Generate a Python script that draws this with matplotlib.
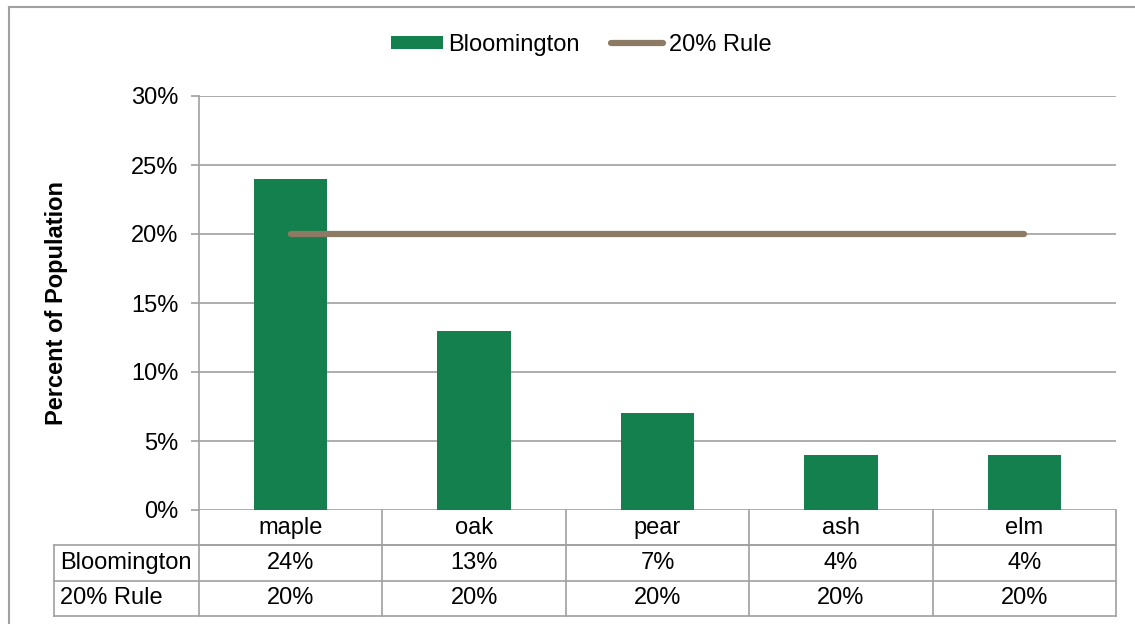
import matplotlib
matplotlib.use("Agg")
import matplotlib.pyplot as plt
from matplotlib.lines import Line2D
import matplotlib.transforms as mtransforms
import numpy as np

categories = ["maple", "oak", "pear", "ash", "elm"]
bloomington = [24, 13, 7, 4, 4]
rule20 = [20, 20, 20, 20, 20]
yticks = [0, 5, 10, 15, 20, 25, 30]
series_names = ["Bloomington", "20% Rule"]

plt.rcParams['font.family'] = ['Liberation Sans', 'DejaVu Sans']
FS = 17
GRID = "#A0A0A0"
W, H = 1135, 624
fig = plt.figure(figsize=(W / 100, H / 100), dpi=100)

# outer chart border (top and left visible)
fig.add_artist(Line2D([9 / W, 1.0], [1 - 7 / H, 1 - 7 / H], color=GRID, lw=1.5))
fig.add_artist(Line2D([9 / W, 9 / W], [0, 1 - 7 / H], color=GRID, lw=1.5))

x0, x1, ytop, ybot = 199, 1116, 96, 510
ax = fig.add_axes([x0 / W, 1 - ybot / H, (x1 - x0) / W, (ybot - ytop) / H])

x = np.arange(len(categories))
bar_color = "#13804E"
line_color = "#8D7A64"
bars = ax.bar(x, bloomington, width=0.4, color=bar_color, zorder=3, label=series_names[0])
line, = ax.plot(x, rule20, color=line_color, lw=4.5, solid_capstyle="round", zorder=4,
                label=series_names[1])

ax.set_xlim(-0.5, len(categories) - 0.5)
ax.set_ylim(0, 30)
ax.set_yticks(yticks)
ax.set_yticklabels([f"{v}%" for v in yticks], fontsize=FS)
ax.set_xticks([])
ax.grid(axis="y", color=GRID, lw=1.2, zorder=0)
for s in ["top", "right", "bottom"]:
    ax.spines[s].set_visible(False)
ax.spines["left"].set_color(GRID)
ax.spines["left"].set_linewidth(1.2)
ax.tick_params(axis="y", length=6, color=GRID, width=1.2, pad=9)
fig.text(57 / W, 1 - 303 / H, "Percent of Population", fontsize=FS, fontweight="bold",
         rotation=90, ha="center", va="center")

# data table drawn below the axes (x in data units, y in axes fraction)
axh = ybot - ytop
rh = 35.3 / axh
trans = mtransforms.blended_transform_factory(ax.transData, ax.transAxes)
n = len(categories)
label_left = -0.5 - (x0 - 54) / ((x1 - x0) / n)
kw = dict(color=GRID, lw=1.2, transform=trans, clip_on=False)
# horizontal lines
ax.add_line(Line2D([-0.5, n - 0.5], [-rh, -rh], **kw))
ax.add_line(Line2D([label_left, n - 0.5], [-rh, -rh], **kw))
ax.add_line(Line2D([label_left, n - 0.5], [-2 * rh, -2 * rh], **kw))
ax.add_line(Line2D([label_left, n - 0.5], [-3 * rh, -3 * rh], **kw))
# vertical lines
for k in range(n + 1):
    ax.add_line(Line2D([k - 0.5, k - 0.5], [0, -3 * rh], **kw))
ax.add_line(Line2D([label_left, label_left], [-rh, -3 * rh], **kw))
# texts
for i, cat in enumerate(categories):
    ax.text(i, -0.5 * rh, cat, transform=trans, ha="center", va="center", fontsize=FS)
rows = [bloomington, rule20]
for r, (name, vals) in enumerate(zip(series_names, rows)):
    yc = -(r + 1.5) * rh
    ax.text(label_left + 0.035, yc, name, transform=trans, ha="left", va="center", fontsize=FS)
    for i, v in enumerate(vals):
        ax.text(i, yc, f"{v}%", transform=trans, ha="center", va="center", fontsize=FS)

# legend
fig.legend([bars, line], series_names, loc="center", bbox_to_anchor=(581 / W, 1 - 45 / H),
           ncol=2, frameon=False, fontsize=FS, handlelength=2.2, handleheight=0.5,
           handletextpad=0.25, columnspacing=1.3)

fig.savefig("out.png", dpi=100)
